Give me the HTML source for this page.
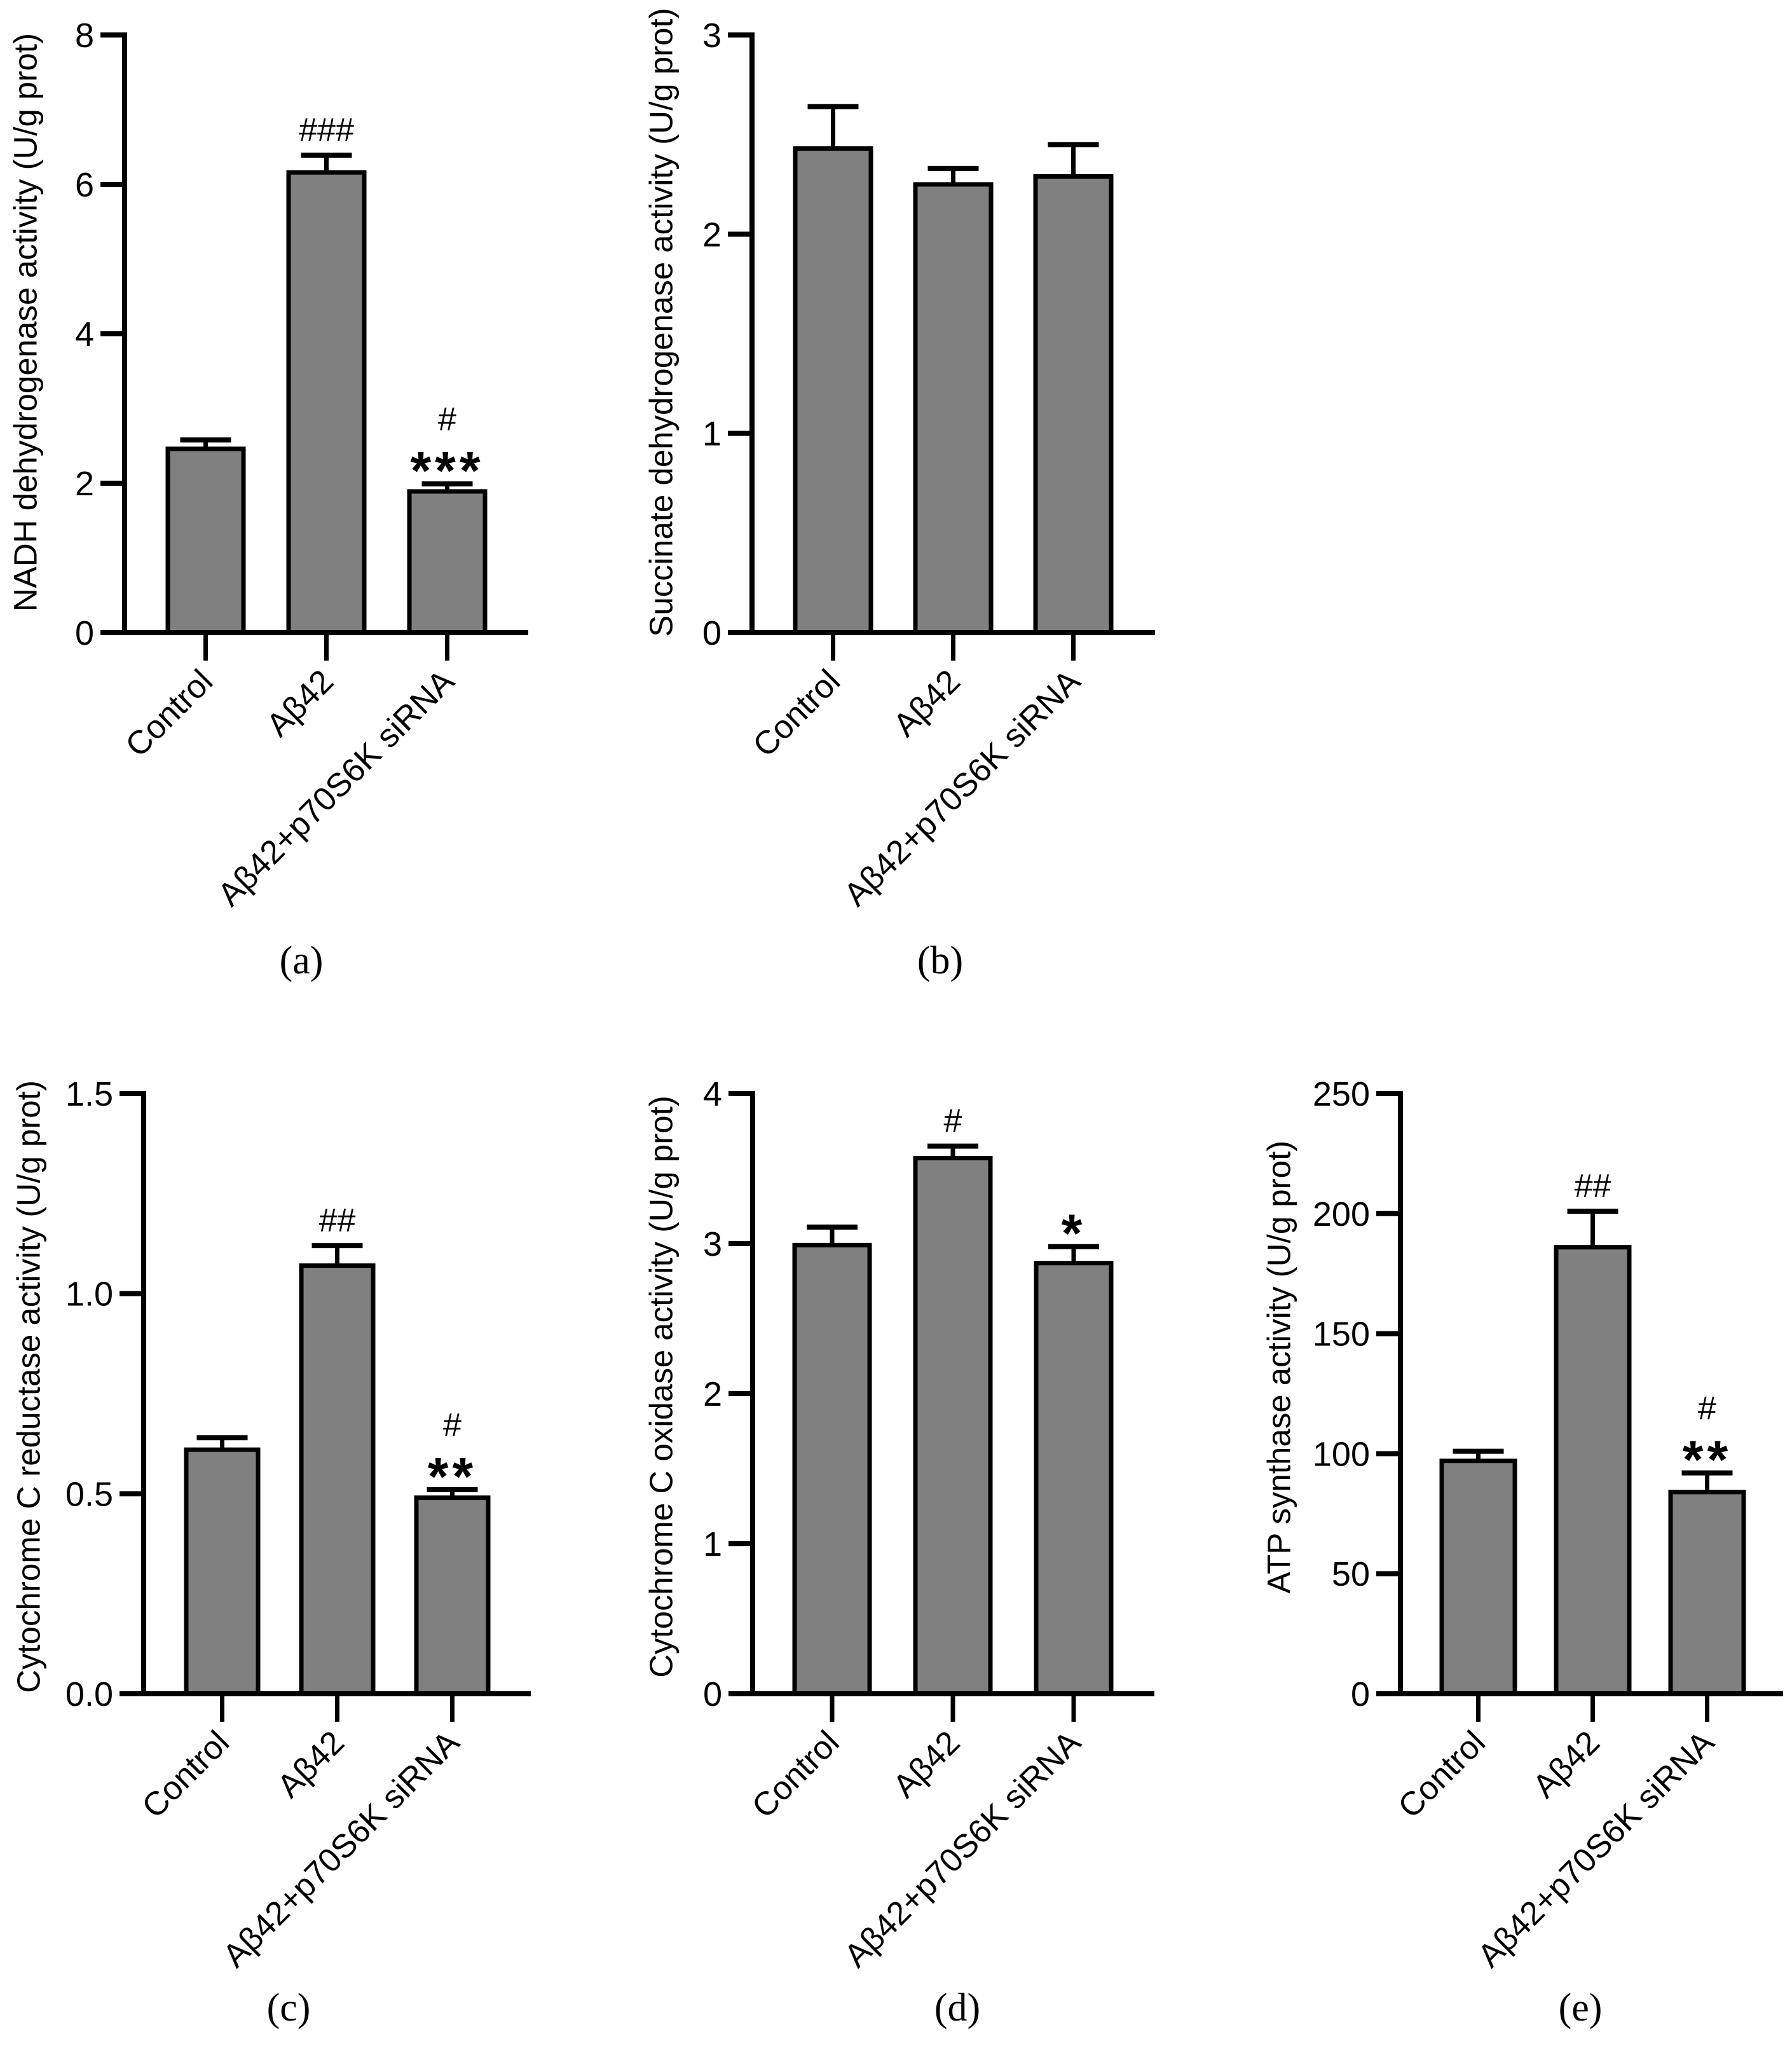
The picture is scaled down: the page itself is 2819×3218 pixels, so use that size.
<!DOCTYPE html>
<html><head><meta charset="utf-8"><style>
html,body{margin:0;padding:0;background:#fff;}
svg{display:block;font-family:"Liberation Sans",Arial,sans-serif;}
</style></head><body>
<svg id="fig" width="2819" height="3218" viewBox="0 0 2819 3218" xmlns="http://www.w3.org/2000/svg"></svg>
<script>
const categories = ["Control", "Aβ42", "Aβ42+p70S6K siRNA"];
const valuesA = [2.46, 6.16, 1.89];
const errorsA = [2.58, 6.39, 1.99];
const ticksA = [0, 2, 4, 6, 8];
const annotA = [[], ["###"], ["#", "***"]];
const valuesB = [2.43, 2.25, 2.29];
const errorsB = [2.64, 2.33, 2.45];
const ticksB = [0, 1, 2, 3];
const annotB = [[], [], []];
const valuesC = [0.61, 1.07, 0.49];
const errorsC = [0.64, 1.12, 0.51];
const ticksC = ["0.0", "0.5", "1.0", "1.5"];
const annotC = [[], ["##"], ["#", "**"]];
const valuesD = [2.99, 3.57, 2.87];
const errorsD = [3.11, 3.65, 2.98];
const ticksD = [0, 1, 2, 3, 4];
const annotD = [[], ["#"], ["*"]];
const valuesE = [97, 186, 84];
const errorsE = [101, 201, 92];
const ticksE = [0, 50, 100, 150, 200, 250];
const annotE = [[], ["##"], ["#", "**"]];

const NS = "http://www.w3.org/2000/svg";
const svg = document.getElementById("fig");
function mk(tag, attrs, parent, text) {
  const e = document.createElementNS(NS, tag);
  for (const k in attrs) e.setAttribute(k, attrs[k]);
  if (text !== undefined) e.textContent = text;
  (parent || svg).appendChild(e);
  return e;
}

const panels = [
  {id:"a", vals:valuesA, errs:errorsA, ticks:ticksA, ann:annotA, title:"NADH dehydrogenase activity (U/g prot)",
   ax:196, end:831, off:68, pitch:190, bw:119, top:55, zero:995, tx:40, ty:507, lx:474, ly:1509},
  {id:"b", vals:valuesB, errs:errorsB, ticks:ticksB, ann:annotB, title:"Succinate dehydrogenase activity (U/g prot)",
   ax:1183, end:1817, off:68, pitch:189, bw:119, top:55, zero:995, tx:1040, ty:507, lx:1479, ly:1509},
  {id:"c", vals:valuesC, errs:errorsC, ticks:ticksC, ann:annotC, title:"Cytochrome C reductase activity (U/g prot)",
   ax:226, end:835, off:67, pitch:181, bw:113, top:1720, zero:2664, tx:45, ty:2181, lx:454, ly:3156},
  {id:"d", vals:valuesD, errs:errorsD, ticks:ticksD, ann:annotD, title:"Cytochrome C oxidase activity (U/g prot)",
   ax:1184, end:1816, off:66, pitch:190, bw:118, top:1720, zero:2664, tx:1040, ty:2181, lx:1506, ly:3156},
  {id:"e", vals:valuesE, errs:errorsE, ticks:ticksE, ann:annotE, title:"ATP synthase activity (U/g prot)",
   ax:2203, end:2805, off:65, pitch:180, bw:115, top:1720, zero:2664, tx:2012, ty:2150, lx:2486, ly:3156}
];

panels.forEach(p => {
  const g = mk("g", {});
  
  
  const tnum = p.ticks.map(Number);
  const ymax = Math.max(...tnum);
  const y = v => p.zero - (v / ymax) * (p.zero - p.top);
  p.vals.forEach((v, i) => {
    const x0 = p.ax + p.off + i * p.pitch;
    const cx = x0 + p.bw / 2;
    const ey = y(p.errs[i]);
    const eb = mk("line", {x1:cx, x2:cx, y1:y(v), y2:ey, stroke:"#000", "stroke-width":7}, g);
    
    
    const cap = mk("line", {x1:cx-40, x2:cx+40, y1:ey, y2:ey, stroke:"#000", "stroke-width":8}, g);
    
    
    const r = mk("rect", {x:x0, y:y(v), width:p.bw, height:p.zero - y(v), fill:"#808080", stroke:"#000", "stroke-width":7}, g);
    
    
    const a = p.ann[i];
    a.forEach((s, k) => {
      const isStar = s.indexOf("*") >= 0;
      const yy = ey - 22 - (a.length - 1 - k) * 62;
      const t = mk("text", {x:cx, y: isStar ? yy + 30 : yy, "text-anchor":"middle", "font-size": isStar ? 84 : 52,
        "font-weight": isStar ? "bold" : "normal", "letter-spacing": isStar ? 6 : 0}, g, s);
      
      
    });
    const xt = mk("line", {x1:cx, x2:cx, y1:p.zero, y2:p.zero + 44, stroke:"#000", "stroke-width":7}, g);
    
    
    const lbl = mk("text", {x:cx + 14, y:p.zero + 80, "text-anchor":"end", "font-size":52,
      transform:"rotate(-45 " + (cx + 14) + " " + (p.zero + 80) + ")"}, g, categories[i]);
    
    
  });
  const yaxis = mk("line", {x1:p.ax, x2:p.ax, y1:p.top - 4, y2:p.zero + 4, stroke:"#000", "stroke-width":8}, g);
  
  
  const xaxis = mk("line", {x1:p.ax - 38, x2:p.end, y1:p.zero, y2:p.zero, stroke:"#000", "stroke-width":8}, g);
  
  
  p.ticks.forEach((t, k) => {
    const yy = y(Number(t));
    const tl = mk("line", {x1:p.ax - 38, x2:p.ax, y1:yy, y2:yy, stroke:"#000", "stroke-width":8}, g);
    
    
    const tt = mk("text", {x:p.ax - 48, y:yy + 19, "text-anchor":"end", "font-size":54}, g, String(t));
    
    
  });
  const ti = mk("text", {x:p.tx, y:p.ty, "text-anchor":"middle", "font-size":51,
    transform:"rotate(-90 " + p.tx + " " + p.ty + ")", "dominant-baseline":"central"}, g, p.title);
  
  
  const pl = mk("text", {x:p.lx, y:p.ly + 22, "text-anchor":"middle", "font-size":62,
    "font-family":"'Liberation Serif', serif"}, g, "(" + p.id + ")");
  
  
});
</script>
</body></html>
